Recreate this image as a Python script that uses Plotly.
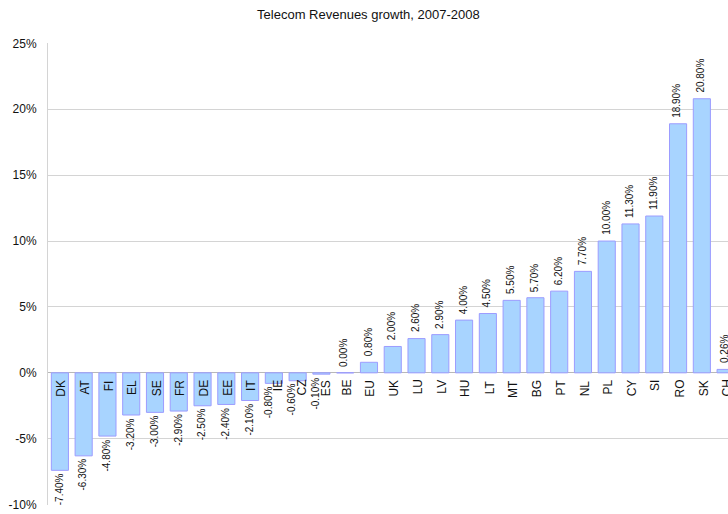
import plotly.graph_objects as go

# Country codes and 2007-2008 telecom revenue growth (%)
countries = ["DK", "AT", "FI", "EL", "SE", "FR", "DE", "EE", "IT", "IE", "CZ", "ES",
             "BE", "EU", "UK", "LU", "LV", "HU", "LT", "MT", "BG", "PT", "NL", "PL",
             "CY", "SI", "RO", "SK", "CH"]
growth = [-7.40, -6.30, -4.80, -3.20, -3.00, -2.90, -2.50, -2.40, -2.10, -0.80, -0.60, -0.10,
          0.00, 0.80, 2.00, 2.60, 2.90, 4.00, 4.50, 5.50, 5.70, 6.20, 7.70, 10.00,
          11.30, 11.90, 18.90, 20.80, 0.26]
y_ticks = [-10, -5, 0, 5, 10, 15, 20, 25]

y_min, y_max = -10, 25
font_family = "Liberation Sans, Arial, sans-serif"
grid_color = "#d4d4d4"
text_color = "#111111"

# Short negative bars: category name and value label are pushed apart
crowded = {"IE", "CZ", "ES"}

fig = go.Figure(
    go.Bar(
        x=countries,
        y=growth,
        width=0.72,
        marker=dict(color="#a8d4ff", line=dict(color="#9c9cff", width=1)),
        hoverinfo="x+y",
    )
)

annotations = []
for name, v in zip(countries, growth):
    tight = name in crowded
    # value label, rotated, beyond the end of the bar
    annotations.append(dict(
        x=name, y=v, xref="x", yref="y",
        text=f"{v:.2f}%", showarrow=False, textangle=-90,
        font=dict(size=10, color=text_color, family=font_family),
        xanchor="center",
        yanchor="bottom" if v >= 0 else "top",
        yshift=4 if v >= 0 else -1,
        xshift=-6 if tight else -1,
    ))
    # category name, rotated, just under the zero line
    annotations.append(dict(
        x=name, y=0, xref="x", yref="y",
        text=name, showarrow=False, textangle=-90,
        font=dict(size=12, color=text_color, family=font_family),
        xanchor="center", yanchor="top",
        yshift=-5,
        xshift=4 if tight else 1.5,
    ))

fig.update_layout(
    width=728,
    height=514,
    margin=dict(l=48, r=0, t=43, b=9),
    paper_bgcolor="white",
    plot_bgcolor="white",
    showlegend=False,
    title=dict(
        text="Telecom Revenues growth, 2007-2008",
        x=0.506,
        xanchor="center",
        y=1 - 14 / 514,
        yanchor="middle",
        font=dict(size=13, color=text_color, family=font_family),
    ),
    font=dict(family=font_family, color=text_color),
    annotations=annotations,
)

fig.update_xaxes(
    type="category",
    range=[-0.5, 28.1],
    automargin=False,
    showline=False,
    showgrid=False,
    ticks="",
    showticklabels=False,
)

fig.update_yaxes(
    range=[y_min - 0.03, y_max + 0.03],
    automargin=False,
    tickvals=y_ticks,
    ticktext=[f"{v}%" for v in y_ticks],
    showgrid=True,
    gridcolor=grid_color,
    gridwidth=1,
    zeroline=True,
    zerolinecolor="#b8b8b8",
    zerolinewidth=1,
    showline=True,
    linecolor=grid_color,
    linewidth=1,
    ticks="",
    tickfont=dict(size=12, color=text_color, family=font_family),
    ticklabelstandoff=8,
)

fig.write_html("out.html")
